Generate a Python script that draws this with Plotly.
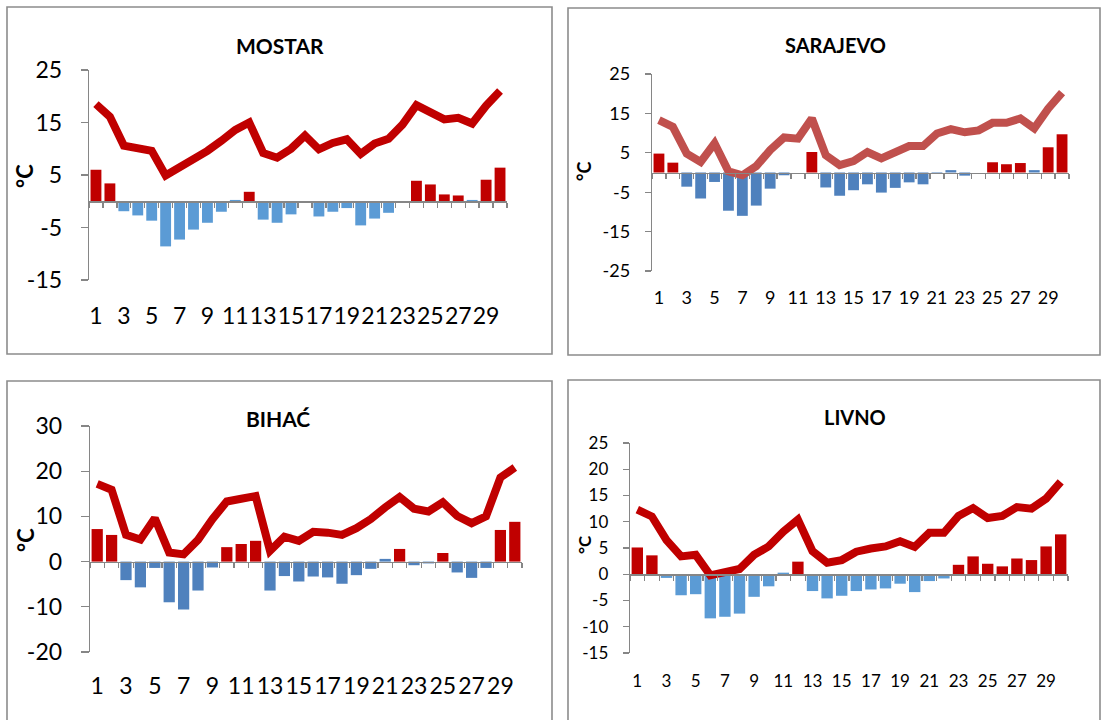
import plotly.graph_objects as go

W, H = 1101, 720
days = list(range(1, 31))
x_labels = [str(d) for d in range(1, 30, 2)]

# ---- data (°C) ----
mostar_temp = [18.5, 16.1, 10.6, 10.2, 9.6, 4.9, 6.4, 8.3, 9.6, 11.5, 13.6, 15.0, 9.2, 8.3, 10.0,
               12.5, 9.9, 11.1, 11.8, 9.0, 11.0, 11.9, 14.6, 18.3, 16.9, 15.6, 15.9, 14.8, 18.2, 21.0]
mostar_anom = [6.0, 3.4, -1.9, -2.7, -3.7, -8.6, -7.3, -5.4, -4.1, -2.0, 0.25, 1.8, -3.5, -4.1, -2.5,
               -0.1, -2.9, -2.0, -1.3, -4.6, -3.3, -2.2, 0.0, 3.9, 3.2, 1.3, 1.1, 0.25, 4.1, 6.4]

sarajevo_temp = [13.3, 11.6, 4.8, 2.7, 7.4, 0.3, -0.7, 1.6, 5.7, 8.9, 8.6, 13.7, 4.4, 1.9, 2.9,
                 5.2, 3.6, 5.2, 6.7, 6.7, 9.9, 11.0, 10.2, 10.7, 12.6, 12.6, 13.7, 11.2, 16.2, 20.3]
sarajevo_anom = [4.8, 2.5, -3.6, -6.6, -2.4, -9.7, -11.0, -8.4, -4.1, -0.7, 0.0, 5.2, -3.8, -5.9, -4.5,
                 -3.0, -5.1, -3.9, -2.5, -3.0, -0.3, 0.6, -0.8, 0.0, 2.6, 2.1, 2.4, 0.6, 6.4, 9.7]

bihac_temp = [17.2, 15.9, 5.9, 4.9, 9.6, 2.0, 1.6, 4.8, 9.4, 13.3, 13.9, 14.5, 2.4, 5.5, 4.6,
              6.6, 6.4, 5.9, 7.4, 9.4, 12.0, 14.3, 11.7, 11.1, 13.1, 10.1, 8.5, 10.0, 18.6, 20.8]
bihac_anom = [7.2, 5.9, -4.1, -5.7, -1.4, -9.0, -10.6, -6.4, -1.3, 3.2, 3.9, 4.6, -6.4, -3.2, -4.4,
              -3.3, -3.5, -4.9, -3.0, -1.6, 0.6, 2.8, -0.8, -0.4, 1.9, -2.4, -3.6, -1.4, 7.0, 8.8]

livno_temp = [12.3, 11.0, 6.5, 3.4, 3.7, -0.2, 0.4, 1.0, 3.7, 5.3, 8.1, 10.4, 4.4, 2.2, 2.7,
              4.3, 4.9, 5.3, 6.3, 5.2, 7.9, 7.9, 11.1, 12.6, 10.7, 11.1, 12.8, 12.5, 14.4, 17.6]
livno_anom = [5.1, 3.6, -0.7, -4.0, -3.8, -8.4, -8.1, -7.5, -4.3, -2.3, 0.3, 2.4, -3.2, -4.6, -4.1,
              -3.2, -2.9, -2.7, -1.8, -3.4, -1.3, -0.8, 1.8, 3.4, 2.0, 1.5, 3.0, 2.7, 5.3, 7.6]

mostar_yticks = [-15, -5, 5, 15, 25]
sarajevo_yticks = [-25, -15, -5, 5, 15, 25]
bihac_yticks = [-20, -10, 0, 10, 20, 30]
livno_yticks = [-15, -10, -5, 0, 5, 10, 15, 20, 25]

FONT = "Lato, 'Open Sans', sans-serif"
GREY = "#868686"
RED = "#C00000"

panels = [
    dict(title="MOSTAR", temp=mostar_temp, anom=mostar_anom, yticks=mostar_yticks,
         line=RED, neg="#5B9BD5", box=(89, 507, 70, 280), frame=(7, 552, 7, 354),
         title_xy=(280, 45), ytitle_xy=(24, 176), fs=23, tfs=21, yfs=22,
         ystand=14, xstand=89, tlen=7),
    dict(title="SARAJEVO", temp=sarajevo_temp, anom=sarajevo_anom, yticks=sarajevo_yticks,
         line="#C0504D", neg="#4F81BD", box=(652, 1069, 74, 271), frame=(568, 1100, 8, 355),
         title_xy=(835, 45), ytitle_xy=(584, 172), fs=18, tfs=20, yfs=18,
         ystand=11, xstand=104, tlen=6),
    dict(title="BIHAĆ", temp=bihac_temp, anom=bihac_anom, yticks=bihac_yticks,
         line=RED, neg="#4F81BD", box=(90, 522, 426, 652), frame=(7, 552, 381, 725),
         title_xy=(278, 418), ytitle_xy=(25, 540), fs=23, tfs=21, yfs=22,
         ystand=14, xstand=98, tlen=8),
    dict(title="LIVNO", temp=livno_temp, anom=livno_anom, yticks=livno_yticks,
         line=RED, neg="#5B9BD5", box=(630, 1068, 443, 653), frame=(568, 1100, 380, 725),
         title_xy=(855, 417), ytitle_xy=(584, 545), fs=17, tfs=20, yfs=17,
         ystand=11, xstand=86, tlen=6),
]

fig = go.Figure()
shapes, annotations = [], []
boundaries = [d - 0.5 for d in days] + [30.5]

for i, p in enumerate(panels, start=1):
    xa = "x" if i == 1 else f"x{i}"
    ya = "y" if i == 1 else f"y{i}"
    x0, x1, ytop, ybot = p["box"]
    ymin, ymax = min(p["yticks"]), max(p["yticks"])
    dom_y = [1 - ybot / H, 1 - ytop / H]
    zero_pos = dom_y[0] + (0 - ymin) / (ymax - ymin) * (dom_y[1] - dom_y[0])

    colors = [RED if v > 1 else p["neg"] for v in p["anom"]]
    fig.add_trace(go.Bar(x=days, y=p["anom"], marker=dict(color=colors, line=dict(width=0)),
                         xaxis=xa, yaxis=ya, showlegend=False, hoverinfo="skip"))
    fig.add_trace(go.Scatter(x=days, y=p["temp"], mode="lines",
                             line=dict(color=p["line"], width=8),
                             xaxis=xa, yaxis=ya, showlegend=False, hoverinfo="skip"))

    fig.layout[("xaxis" if i == 1 else f"xaxis{i}")] = dict(
        domain=[x0 / W, x1 / W], range=[0.5, 30.5], anchor="free", position=zero_pos,
        automargin=False, tickangle=0,
        showline=True, linecolor=GREY, linewidth=1.3, showgrid=False, zeroline=False,
        tickmode="array", tickvals=list(range(1, 30, 2)), ticktext=x_labels,
        ticks="outside", ticklen=5, tickcolor="rgba(0,0,0,0)",
        ticklabelstandoff=p["xstand"],
        minor=dict(tickmode="array", tickvals=boundaries, ticks="outside", ticklen=5,
                   tickcolor=GREY, tickwidth=1.3, showgrid=False),
        tickfont=dict(family=FONT, size=p["fs"], color="#000000"), fixedrange=True)
    fig.layout[("yaxis" if i == 1 else f"yaxis{i}")] = dict(
        domain=dom_y, range=[ymin, ymax], anchor=xa, automargin=False,
        showline=True, linecolor=GREY, linewidth=1.3, showgrid=False, zeroline=False,
        tickmode="array", tickvals=p["yticks"], ticktext=[str(v) for v in p["yticks"]],
        ticks="outside", ticklen=p["tlen"], tickcolor=GREY, tickwidth=1.3,
        ticklabelstandoff=p["ystand"],
        tickfont=dict(family=FONT, size=p["fs"], color="#000000"), fixedrange=True)

    fx0, fx1, fy0, fy1 = p["frame"]
    shapes.append(dict(type="rect", xref="paper", yref="paper",
                       x0=fx0 / W, x1=fx1 / W, y0=1 - fy1 / H, y1=1 - fy0 / H,
                       line=dict(color="#8C8C8C", width=1.6), fillcolor="rgba(0,0,0,0)",
                       layer="below"))
    tx, ty = p["title_xy"]
    annotations.append(dict(text=f"<b>{p['title']}</b>", x=tx / W, y=1 - ty / H,
                            xref="paper", yref="paper", showarrow=False,
                            xanchor="center", yanchor="middle",
                            font=dict(family=FONT, size=p["tfs"], color="#000000")))
    ux, uy = p["ytitle_xy"]
    annotations.append(dict(text="<b>°C</b>", x=ux / W, y=1 - uy / H,
                            xref="paper", yref="paper", showarrow=False, textangle=-90,
                            xanchor="center", yanchor="middle",
                            font=dict(family=FONT, size=p["yfs"], color="#000000")))

fig.update_layout(width=W, height=H, margin=dict(l=0, r=0, t=0, b=0, autoexpand=False),
                  paper_bgcolor="white", plot_bgcolor="rgba(0,0,0,0)",
                  bargap=0.22, shapes=shapes, annotations=annotations,
                  font=dict(family=FONT))

fig.write_html("out.html", config={"displayModeBar": False, "staticPlot": True},
               post_script="document.body.style.margin='0';document.body.style.overflow='hidden';")
